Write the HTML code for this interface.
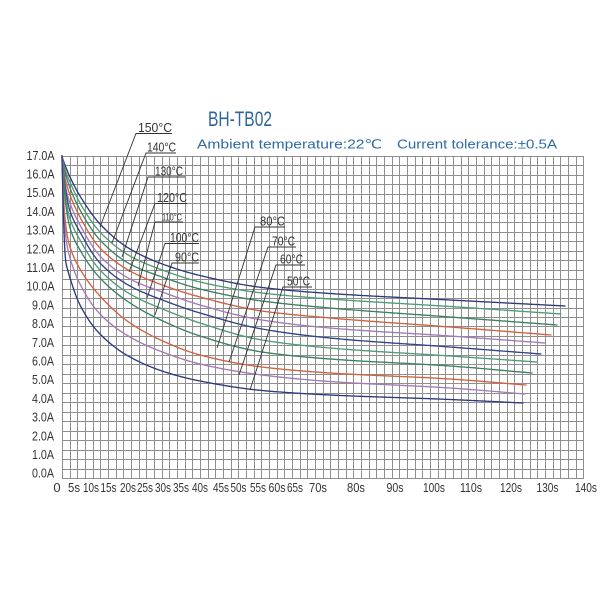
<!DOCTYPE html>
<html>
<head>
<meta charset="utf-8">
<style>
  html,body{margin:0;padding:0;background:#fff;}
  svg{display:block;}
  text{font-family:"Liberation Sans","DejaVu Sans","Noto Sans CJK SC",sans-serif;}
</style>
</head>
<body>
<svg width="600" height="600" viewBox="0 0 600 600" xmlns="http://www.w3.org/2000/svg">
<rect width="600" height="600" fill="#fff"/>

<!-- grid -->
<path fill="none" stroke="#8f8f8f" stroke-width="1" d="
M62.5 156v322M70.5 156v322M77.5 156v322M85.5 156v322M93.5 156v322M100.5 156v322M108.5 156v322M116.5 156v322M123.5 156v322M131.5 156v322
M139.5 156v322M146.5 156v322M154.5 156v322M162.5 156v322M169.5 156v322M177.5 156v322M185.5 156v322M192.5 156v322M200.5 156v322M208.5 156v322
M215.5 156v322M223.5 156v322M231.5 156v322M238.5 156v322M246.5 156v322M254.5 156v322M261.5 156v322M269.5 156v322M277.5 156v322M284.5 156v322
M292.5 156v322M300.5 156v322M307.5 156v322M315.5 156v322M323.5 156v322M330.5 156v322M338.5 156v322M346.5 156v322M353.5 156v322M361.5 156v322
M369.5 156v322M376.5 156v322M384.5 156v322M392.5 156v322M399.5 156v322M407.5 156v322M415.5 156v322M422.5 156v322M430.5 156v322M438.5 156v322
M445.5 156v322M453.5 156v322M461.5 156v322M468.5 156v322M476.5 156v322M484.5 156v322M491.5 156v322M499.5 156v322M507.5 156v322M514.5 156v322
M522.5 156v322M530.5 156v322M537.5 156v322M545.5 156v322M553.5 156v322M560.5 156v322M568.5 156v322M576.5 156v322M583.5 156v322
M62 156.5h522M62 165.5h522M62 175.5h522M62 184.5h522M62 194.5h522M62 203.5h522M62 213.5h522M62 222.5h522M62 232.5h522M62 241.5h522
M62 251.5h522M62 260.5h522M62 270.5h522M62 279.5h522M62 289.5h522M62 298.5h522M62 308.5h522M62 317.5h522M62 326.5h522M62 336.5h522
M62 345.5h522M62 355.5h522M62 364.5h522M62 374.5h522M62 383.5h522M62 393.5h522M62 402.5h522M62 412.5h522M62 421.5h522M62 431.5h522
M62 440.5h522M62 450.5h522M62 459.5h522M62 469.5h522M62 478.5h522"/>

<!-- title -->
<text x="208" y="126" font-size="21" textLength="64" lengthAdjust="spacingAndGlyphs" fill="#2f6496">BH-TB02</text>
<text x="197" y="148.5" font-size="12.5" textLength="185" lengthAdjust="spacingAndGlyphs" fill="#2d6aa5">Ambient temperature:22℃</text>
<text x="397" y="148.5" font-size="12.5" textLength="160" lengthAdjust="spacingAndGlyphs" fill="#2d6aa5">Current tolerance:±0.5A</text>

<!-- y labels -->
<g font-size="13" fill="#333" text-anchor="end">
<text x="54.5" y="159.8" textLength="28" lengthAdjust="spacingAndGlyphs">17.0A</text>
<text x="54.5" y="178.5" textLength="28" lengthAdjust="spacingAndGlyphs">16.0A</text>
<text x="54.5" y="197.2" textLength="28" lengthAdjust="spacingAndGlyphs">15.0A</text>
<text x="54.5" y="215.9" textLength="28" lengthAdjust="spacingAndGlyphs">14.0A</text>
<text x="54.5" y="234.6" textLength="28" lengthAdjust="spacingAndGlyphs">13.0A</text>
<text x="54.5" y="253.3" textLength="28" lengthAdjust="spacingAndGlyphs">12.0A</text>
<text x="54.5" y="272.0" textLength="28" lengthAdjust="spacingAndGlyphs">11.0A</text>
<text x="54.5" y="290.7" textLength="28" lengthAdjust="spacingAndGlyphs">10.0A</text>
<text x="54" y="309.4" textLength="22" lengthAdjust="spacingAndGlyphs">9.0A</text>
<text x="54" y="328.1" textLength="22" lengthAdjust="spacingAndGlyphs">8.0A</text>
<text x="54" y="346.8" textLength="22" lengthAdjust="spacingAndGlyphs">7.0A</text>
<text x="54" y="365.5" textLength="22" lengthAdjust="spacingAndGlyphs">6.0A</text>
<text x="54" y="384.2" textLength="22" lengthAdjust="spacingAndGlyphs">5.0A</text>
<text x="54" y="402.9" textLength="22" lengthAdjust="spacingAndGlyphs">4.0A</text>
<text x="54" y="421.6" textLength="22" lengthAdjust="spacingAndGlyphs">3.0A</text>
<text x="54" y="440.3" textLength="22" lengthAdjust="spacingAndGlyphs">2.0A</text>
<text x="54" y="459.0" textLength="22" lengthAdjust="spacingAndGlyphs">1.0A</text>
<text x="54" y="477.7" textLength="22" lengthAdjust="spacingAndGlyphs">0.0A</text>
</g>

<!-- x labels -->
<g font-size="13" fill="#333" text-anchor="middle">
<text x="57" y="492">0</text>
<text x="74" y="492" textLength="12" lengthAdjust="spacingAndGlyphs">5s</text>
<text x="91" y="492" textLength="16" lengthAdjust="spacingAndGlyphs">10s</text>
<text x="108.5" y="492" textLength="16" lengthAdjust="spacingAndGlyphs">15s</text>
<text x="128" y="492" textLength="16" lengthAdjust="spacingAndGlyphs">20s</text>
<text x="145" y="492" textLength="16" lengthAdjust="spacingAndGlyphs">25s</text>
<text x="163" y="492" textLength="16" lengthAdjust="spacingAndGlyphs">30s</text>
<text x="181" y="492" textLength="16" lengthAdjust="spacingAndGlyphs">35s</text>
<text x="200" y="492" textLength="16" lengthAdjust="spacingAndGlyphs">40s</text>
<text x="221" y="492" textLength="16" lengthAdjust="spacingAndGlyphs">45s</text>
<text x="238.5" y="492" textLength="16" lengthAdjust="spacingAndGlyphs">50s</text>
<text x="258" y="492" textLength="16" lengthAdjust="spacingAndGlyphs">55s</text>
<text x="277" y="492" textLength="17" lengthAdjust="spacingAndGlyphs">60s</text>
<text x="295" y="492" textLength="16" lengthAdjust="spacingAndGlyphs">65s</text>
<text x="318" y="492" textLength="18" lengthAdjust="spacingAndGlyphs">70s</text>
<text x="356" y="492" textLength="18" lengthAdjust="spacingAndGlyphs">80s</text>
<text x="395" y="492" textLength="17" lengthAdjust="spacingAndGlyphs">90s</text>
<text x="434" y="492" textLength="22" lengthAdjust="spacingAndGlyphs">100s</text>
<text x="471" y="492" textLength="22" lengthAdjust="spacingAndGlyphs">110s</text>
<text x="511" y="492" textLength="22" lengthAdjust="spacingAndGlyphs">120s</text>
<text x="547.5" y="492" textLength="22" lengthAdjust="spacingAndGlyphs">130s</text>
<text x="586" y="492" textLength="22" lengthAdjust="spacingAndGlyphs">140s</text>
</g>

<!-- curves -->
<g fill="none" stroke-width="1.35" stroke-linejoin="round" stroke-linecap="round">
<polyline class="c" stroke="#2d3a7c" points="62,156 63,159.5 65,165 70,177 80,196 100,224 130,249 165,265 200,275.5 262,287.5 330,293.5 450,300 565,306"/>
<polyline class="c" stroke="#4f9c78" points="62,156 63,161 65,169 70,182 80,203 100,232 130,256 165,271 200,282 262,293 330,299 450,306.5 561,314"/>
<polyline class="c" stroke="#3b825e" points="62,156 63,163 65,172 70,188 80,210 100,240 130,264 165,278 200,289 262,301 330,308 450,317 557,325"/>
<polyline class="c" stroke="#d2613f" points="62,156 63,165 65,178 70,195 80,217 100,248 130,271 165,286 200,297 262,311 330,318 450,327 551,335"/>
<polyline class="c" stroke="#a47ab6" points="62,156 63,167 65,184 70,203 80,225 100,256 130,279 165,293 200,305 262,320 330,328 450,336 545,343"/>
<polyline class="c" stroke="#34438a" points="62,156 63,168 64,178 65,186 67,198 70,211 80,232 100,263 130,286 165,301 200,313 262,329 330,338 450,347 541,354"/>
<polyline class="c" stroke="#4f9c78" points="62,156 63,171 64,183 65,193 67,206 70,219 80,240 100,270 130,294 165,310 200,323 262,340 330,348 450,356 537,362"/>
<polyline class="c" stroke="#3b825e" points="62,156 63,174 64,187 65,198 67,213 70,228 80,250 100,278 130,303 165,322 200,336 262,352 330,359 450,366 532,373"/>
<polyline class="c" stroke="#d2613f" points="62,156 63,185 64,205 65,218 67,234 70,247 80,269 100,296 130,323 165,342 200,355 262,367 330,373 450,379 526,385"/>
<polyline class="c" stroke="#a47ab6" points="62,156 63,190 64,215 65,230 67,245 70,258 80,284 100,314 130,337 165,353 200,364 262,375 330,381.5 450,388 525,394"/>
<polyline class="c" stroke="#2d3a7c" points="62,156 63,200 64,232 65,253 66,263 68,271 70,278 80,305 100,334 130,357 165,372 200,381 262,390.5 330,395 450,399.5 523,403"/>
</g>

<!-- leader lines -->
<g fill="none" stroke="#333" stroke-width="0.9">
<path d="M172 133.5H136L100 227"/>
<path d="M176 153H146L112 243"/>
<path d="M185 177H148L122 257"/>
<path d="M187 203.5H155L129 272"/>
<path d="M183 222H155L138 286"/>
<path d="M199 243.5H165L147 298"/>
<path d="M199 263H172L155 315"/>
<path d="M285 227H255L217 348"/>
<path d="M296 247H268L229 362"/>
<path d="M305 265H276L239 375"/>
<path d="M312 287H283L250 390"/>
</g>

<!-- curve labels -->
<g font-size="13" fill="#333">
<text x="138" y="132" textLength="34" lengthAdjust="spacingAndGlyphs">150°C</text>
<text x="147" y="151.5" textLength="29" lengthAdjust="spacingAndGlyphs">140°C</text>
<text x="155" y="175.5" textLength="28" lengthAdjust="spacingAndGlyphs">130°C</text>
<text x="157" y="202" textLength="30" lengthAdjust="spacingAndGlyphs">120°C</text>
<text x="162" y="220.5" font-size="10.5" textLength="20" lengthAdjust="spacingAndGlyphs">110°C</text>
<text x="170" y="242" textLength="29" lengthAdjust="spacingAndGlyphs">100°C</text>
<text x="175" y="261.5" textLength="24" lengthAdjust="spacingAndGlyphs">90°C</text>
<text x="260" y="225.5" textLength="25" lengthAdjust="spacingAndGlyphs">80°C</text>
<text x="272" y="245.5" textLength="23" lengthAdjust="spacingAndGlyphs">70°C</text>
<text x="280" y="263.5" textLength="23" lengthAdjust="spacingAndGlyphs">60°C</text>
<text x="287" y="285.5" textLength="23" lengthAdjust="spacingAndGlyphs">50°C</text>
</g>
</svg>
<script>
(function(){
  var pls=document.querySelectorAll('polyline.c');
  for(var k=0;k<pls.length;k++){
    var pl=pls[k];
    var pts=pl.getAttribute('points').trim().split(/\s+/).map(function(s){return s.split(',').map(Number);});
    var n=pts.length,xs=[],ys=[],d=[],m=[],i;
    for(i=0;i<n;i++){xs.push(pts[i][0]);ys.push(pts[i][1]);}
    for(i=0;i<n-1;i++)d.push((ys[i+1]-ys[i])/(xs[i+1]-xs[i]));
    m[0]=d[0];m[n-1]=d[n-2];
    for(i=1;i<n-1;i++){
      if(d[i-1]*d[i]<=0){m[i]=0;}
      else{
        var h0=xs[i]-xs[i-1],h1=xs[i+1]-xs[i];
        var w1=2*h1+h0,w2=h1+2*h0;
        m[i]=(w1+w2)/(w1/d[i-1]+w2/d[i]);
      }
    }
    var out=[];
    for(i=0;i<n-1;i++){
      var h=xs[i+1]-xs[i];
      var steps=Math.max(3,Math.ceil(h/1.5));
      for(var s=0;s<steps;s++){
        var t=s/steps,t2=t*t,t3=t2*t;
        var y=(2*t3-3*t2+1)*ys[i]+(t3-2*t2+t)*h*m[i]+(-2*t3+3*t2)*ys[i+1]+(t3-t2)*h*m[i+1];
        out.push((xs[i]+t*h).toFixed(2)+','+y.toFixed(2));
      }
    }
    out.push(xs[n-1]+','+ys[n-1]);
    pl.setAttribute('points',out.join(' '));
  }
})();
</script>
</body>
</html>
